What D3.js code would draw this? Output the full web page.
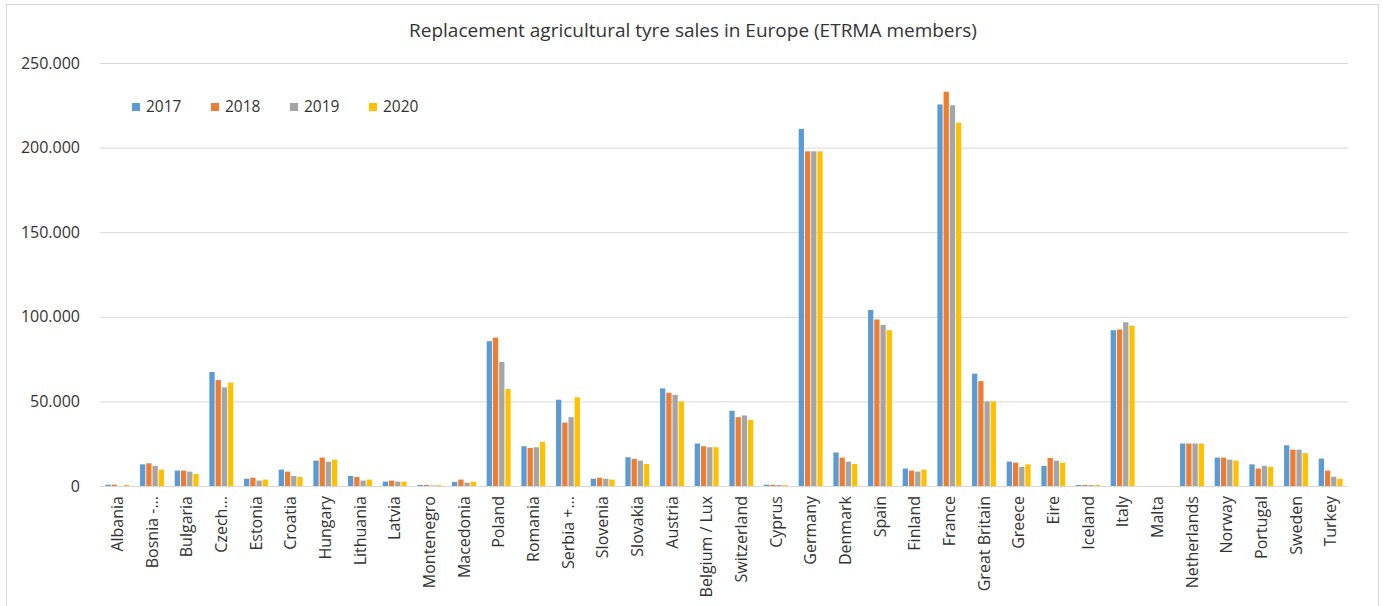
<!DOCTYPE html>
<html lang="en">
<head>
<meta charset="utf-8">
<title>Replacement agricultural tyre sales</title>
<script src="https://cdn.jsdelivr.net/npm/d3@7"></script>
<style>
  body { margin: 0; background: #fff; }
  text { font-family: "Open Sans", sans-serif; fill: #333; }
</style>
</head>
<body>
<script>
// data
var countries = ["Albania", "Bosnia -...", "Bulgaria", "Czech...", "Estonia", "Croatia", "Hungary",
  "Lithuania", "Latvia", "Montenegro", "Macedonia", "Poland", "Romania", "Serbia +...", "Slovenia",
  "Slovakia", "Austria", "Belgium / Lux", "Switzerland", "Cyprus", "Germany", "Denmark", "Spain",
  "Finland", "France", "Great Britain", "Greece", "Eire", "Iceland", "Italy", "Malta", "Netherlands",
  "Norway", "Portugal", "Sweden", "Turkey"];
var years = ["2017", "2018", "2019", "2020"];
var sales2017 = [800, 12800, 9100, 67400, 4300, 9700, 15000, 5900, 2600, 600, 2400, 85600, 23500, 51000, 4300,
  17000, 57700, 25100, 44500, 800, 211000, 19800, 104100, 10300, 225500, 66400, 14400, 11900, 600, 92100, 0, 25100,
  16800, 12800, 24100, 16200];
var sales2018 = [800, 13400, 9100, 62600, 4900, 8500, 16800, 5300, 3200, 600, 3800, 87700, 22500, 37500, 4900,
  16000, 55100, 23500, 40700, 700, 197800, 16800, 98400, 9100, 233000, 62000, 13800, 16600, 600, 92500, 0, 25100,
  16800, 10300, 21500, 9100];
var sales2019 = [0, 11900, 8500, 58300, 3200, 5900, 14400, 3200, 2600, 300, 2000, 73300, 22900, 40700, 4300,
  15000, 53900, 22900, 41700, 600, 197800, 14400, 95200, 8500, 225000, 50000, 11300, 15000, 600, 96800, 0, 25100,
  15600, 11900, 21500, 5500];
var sales2020 = [600, 9700, 7100, 61100, 3800, 5300, 15600, 3800, 2600, 500, 2600, 57300, 26100, 52400, 3800,
  13000, 50000, 22900, 39100, 500, 197800, 13000, 92100, 9700, 214800, 50000, 12800, 13800, 600, 94700, 0, 25100,
  15000, 11300, 19400, 4300];
var yTicks = [0, 50000, 100000, 150000, 200000, 250000];
var colors = ["#5B9BD5", "#ED7D31", "#A5A5A5", "#FFC000"];

var series = [sales2017, sales2018, sales2019, sales2020];
var rows = countries.map(function(c, i) {
  return { name: c, values: series.map(function(s) { return s[i]; }) };
});

var w = 1386, h = 606;
var margin = { top: 63, left: 100, right: 38, bottom: 120 };
var innerW = w - margin.left - margin.right;
var innerH = h - margin.top - margin.bottom;

var svg = d3.select("body").append("svg")
  .attr("width", w)
  .attr("height", h);

// chart border
svg.append("rect")
  .attr("x", 6.5).attr("y", 4.5)
  .attr("width", 1372).attr("height", 610)
  .attr("fill", "none")
  .attr("stroke", "#d9d9d9");

var g = svg.append("g")
  .attr("transform", "translate(" + margin.left + "," + margin.top + ")");

var x0 = d3.scaleBand().domain(countries).range([0, innerW]).paddingInner(0.31).paddingOuter(0.155);
var x1 = d3.scaleBand().domain(years).range([0, x0.bandwidth()]).paddingInner(0.15);
var y = d3.scaleLinear().domain([0, 250000]).range([innerH, 0]);

var fmt = function(d) { return d3.format(",")(d).replace(/,/g, "."); };

// gridlines + y labels
var yaxis = d3.axisLeft(y).tickValues(yTicks).tickSize(-innerW).tickPadding(20).tickFormat(fmt);
g.append("g").attr("class", "y axis").call(yaxis)
  .call(function(a) {
    a.select(".domain").remove();
    a.selectAll(".tick line").attr("stroke", "#d9d9d9");
    a.selectAll(".tick text").style("font-size", "16px").attr("fill", "#333");
  });

// bars
var groups = g.selectAll(".country")
  .data(rows)
  .enter().append("g")
  .attr("class", "country")
  .attr("transform", function(d) { return "translate(" + x0(d.name) + ",0)"; });

groups.selectAll("rect")
  .data(function(d) { return d.values.map(function(v, i) { return { year: years[i], v: v }; }); })
  .enter().append("rect")
  .attr("x", function(d) { return x1(d.year); })
  .attr("width", x1.bandwidth())
  .attr("y", function(d) { return y(d.v); })
  .attr("height", function(d) { return innerH - y(d.v); })
  .attr("fill", function(d, i) { return colors[i]; });

// x axis
var xaxis = d3.axisBottom(x0).tickSize(0).tickPadding(0);
g.append("g").attr("class", "x axis")
  .attr("transform", "translate(0," + innerH + ")")
  .call(xaxis)
  .call(function(a) {
    a.select(".domain").attr("stroke", "#d9d9d9");
    a.selectAll(".tick text")
      .style("font-size", "16px")
      .attr("fill", "#333")
      .attr("transform", "rotate(-90)")
      .attr("text-anchor", "end")
      .attr("x", -10)
      .attr("y", 0)
      .attr("dy", "0.35em");
  });

// title
svg.append("text")
  .attr("x", 693).attr("y", 37)
  .attr("text-anchor", "middle")
  .style("font-size", "19px")
  .text("Replacement agricultural tyre sales in Europe (ETRMA members)");

// legend
var legend = svg.append("g").attr("transform", "translate(132,107)");
var item = legend.selectAll("g").data(years).enter().append("g")
  .attr("transform", function(d, i) { return "translate(" + (i * 79) + ",0)"; });
item.append("rect").attr("x", 0).attr("y", -4).attr("width", 8).attr("height", 8)
  .attr("fill", function(d, i) { return colors[i]; });
item.append("text").attr("x", 14).attr("dy", "0.35em")
  .style("font-size", "15.5px")
  .text(function(d) { return d; });
</script>
</body>
</html>
